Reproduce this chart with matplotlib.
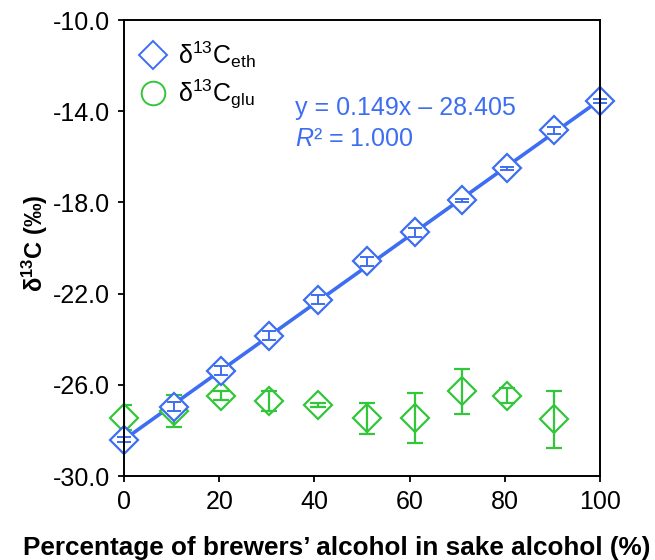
import matplotlib
matplotlib.use("Agg")
import matplotlib.pyplot as plt
from matplotlib.lines import Line2D
import numpy as np

plt.rcParams['font.family'] = ['Liberation Sans', 'DejaVu Sans']
plt.rcParams['mathtext.fontset'] = 'custom'
plt.rcParams['mathtext.rm'] = 'Liberation Sans'
plt.rcParams['mathtext.it'] = 'Liberation Sans:italic'
plt.rcParams['mathtext.bf'] = 'Liberation Sans:bold'

# Blend ratio of brewers' alcohol (%)
pct = [0, 10.5, 20.4, 30.5, 40.8, 51.0, 61.1, 71.0, 80.5, 90.3, 100]

# delta13C of ethanol carbon
eth = [-28.40, -26.97, -25.38, -23.85, -22.26, -20.59, -19.32, -17.91, -16.51, -14.84, -13.55]
eth_err = [0.12, 0.20, 0.20, 0.20, 0.18, 0.20, 0.20, 0.06, 0.08, 0.15, 0.08]

# delta13C of glucose carbon (no 100 % sample)
glu_pct = [0, 10.5, 20.4, 30.5, 40.8, 51.0, 61.1, 71.0, 80.5, 90.3]
glu = [-27.45, -27.14, -26.48, -26.70, -26.89, -27.46, -27.44, -26.29, -26.47, -27.51]
glu_err = [0.55, 0.70, 0.20, 0.45, 0.10, 0.68, 1.10, 0.98, 0.32, 1.24]

slope, intercept = 0.149, -28.405

blue = '#3d6ef2'
green = '#33c63a'
MS = 14.5

fig = plt.figure(figsize=(6.55, 5.6), dpi=100)
ax = fig.add_axes([124 / 655, 1 - 476 / 560, 476 / 655, 456 / 560])

# regression line
xl = np.array([0, 100])
ax.plot(xl, slope * xl + intercept, color=blue, lw=2.6, zorder=2)

# glucose: markers, then bars on top of them
ax.plot(glu_pct, glu, ls='none', marker='D', ms=MS, mfc='white', mec=green,
        mew=1.6, zorder=3, clip_on=False)
ax.errorbar(glu_pct, glu, yerr=glu_err, fmt='none', ecolor=green, elinewidth=1.6,
            capsize=6, capthick=1.6, zorder=3.1)

# ethanol: markers, then bars
ax.plot(pct, eth, ls='none', marker='D', ms=MS, mfc='white', mec=blue,
        mew=1.6, zorder=4, clip_on=False)
ax.errorbar(pct, eth, yerr=eth_err, fmt='none', ecolor=blue, elinewidth=1.4,
            capsize=5, capthick=1.4, zorder=4.1, clip_on=False)

ax.set_xlim(0, 100)
ax.set_ylim(-30, -10)
ax.set_xticks([0, 20, 40, 60, 80, 100])
ax.set_yticks([-30, -26, -22, -18, -14, -10])
ax.set_yticklabels(['-30.0', '-26.0', '-22.0', '-18.0', '-14.0', '-10.0'])
ax.tick_params(direction='out', length=4, width=1.3, labelsize=18, pad=6, color='black')
for s in ax.spines.values():
    s.set_linewidth(1.4)
    s.set_color('black')
    s.set_zorder(5)

fig.text(337 / 655, 1 - 548 / 560, 'Percentage of brewers’ alcohol in sake alcohol (%)',
         fontsize=18.8, fontweight='bold', ha='center', va='center')
fig.text(35 / 655, 1 - 243 / 560, r'δ$^{\mathbf{13}}$C (‰)', fontsize=17,
         fontweight='bold', ha='center', va='center', rotation=90)

ax.text(35.9, -13.87, 'y = 0.149x – 28.405', color=blue, fontsize=18, va='center', ha='left')
ax.text(35.9, -15.23, r'$\mathit{R}$² = 1.000', color=blue, fontsize=18, va='center', ha='left')

handles = [
    Line2D([], [], ls='none', marker='D', ms=MS, mfc='white', mec=blue, mew=1.4),
    Line2D([], [], ls='none', marker='o', ms=17, mfc='white', mec=green, mew=1.4),
]
labels = [r'δ$^{13}$C$_{\mathrm{eth}}$', r'δ$^{13}$C$_{\mathrm{glu}}$']
ax.legend(handles, labels, loc='upper left', bbox_to_anchor=(-0.01, 0.99), frameon=False,
          fontsize=18, handletextpad=0.25, labelspacing=0.3, handlelength=1.5,
          borderaxespad=0.2)

fig.savefig('out.png', dpi=100)
